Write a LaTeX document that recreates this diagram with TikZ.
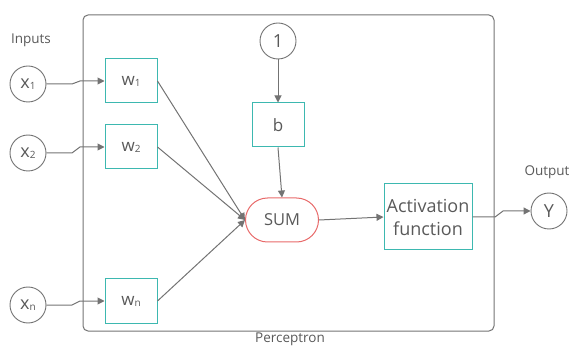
\documentclass[tikz,border=0pt]{standalone}
\usepackage{fontspec}
\setmainfont{Open Sans}
\usetikzlibrary{arrows.meta,shapes.misc}
\definecolor{lgray}{HTML}{737373}
\definecolor{tgray}{HTML}{595959}
\definecolor{teal}{HTML}{3DB8B0}
\definecolor{sred}{HTML}{E86A6A}
\newcommand{\smallsub}[1]{\raisebox{-1pt}{\fontsize{10}{10}\selectfont #1}}
\begin{document}
\begin{tikzpicture}[x=1pt,y=-1pt,
  every node/.style={text=tgray},
  incirc/.style={circle,draw=lgray,line width=0.9pt,minimum size=36pt,inner sep=0pt,font=\fontsize{18}{18}\selectfont},
  wbox/.style={rectangle,draw=teal,line width=1pt,minimum width=52pt,minimum height=44pt,inner sep=0pt,font=\fontsize{17}{17}\selectfont},
  conn/.style={draw=lgray,line width=1pt,-{Triangle[length=7pt,width=7pt]}},
  lbl/.style={font=\fontsize{13.5}{14}\selectfont}]
\useasboundingbox (0,0) rectangle (570,347);
\draw[lgray,line width=1pt,rounded corners=5pt] (83,15) rectangle (494,331);
\node[lbl] (pl) at (290,339) {Perceptron};
\node[lbl] (il) at (31,40) {Inputs};
\node[lbl] (ol) at (547,172) {Output};
\node[incirc] (x1) at (28,84) {x\smallsub{1}};
\node[incirc] (x2) at (28,153) {x\smallsub{2}};
\node[incirc] (xn) at (28,305) {x\smallsub{n}};
\node[wbox] (w1) at (131,81) {w\smallsub{1}};
\node[wbox] (w2) at (131,147) {w\smallsub{2}};
\node[wbox] (wn) at (131,301) {w\smallsub{n}};
\node[incirc] (one) at (278,41) {1};
\node[wbox,font=\fontsize{17}{17}\selectfont] (b) at (278,125) {b};
\node[rounded rectangle,draw=sred,line width=1pt,minimum width=73pt,minimum height=44pt,inner sep=0pt,font=\fontsize{16.5}{16.5}\selectfont] (sum) at (282,220) {SUM};
\node[rectangle,draw=teal,line width=1pt,minimum width=88pt,minimum height=66pt,inner sep=0pt,align=center,font=\fontsize{18}{23}\selectfont] (act) at (428,217) {Activation\\function};
\node[incirc] (y) at (549,211) {Y};
\coordinate (j1a) at (72,84); \coordinate (j1b) at (80,81);
\coordinate (j2a) at (72,150); \coordinate (j2b) at (80,147);
\coordinate (jna) at (72,305); \coordinate (jnb) at (80,301);
\coordinate (joa) at (495,217); \coordinate (job) at (503,211);
\draw[conn] (x1.east) -- (j1a) -- (j1b) -- (w1.west);
\draw[conn] (x2.east) -- (j2a |- x2.east) -- (j2b) -- (w2.west);
\draw[conn] (xn.east) -- (jna |- xn.east) -- (jnb) -- (wn.west);
\draw[conn] (one.south) -- (b.north);
\draw[conn] (b.south) -- (sum.north);
\draw[conn] (w1.east) -- (sum.west);
\draw[conn] (w2.east) -- (sum.west);
\draw[conn] (wn.east) -- (sum.west);
\draw[conn] (sum.east) -- (act.west);
\draw[conn] (act.east) -- (joa) -- (job) -- (y.west);
\end{tikzpicture}
\end{document}
